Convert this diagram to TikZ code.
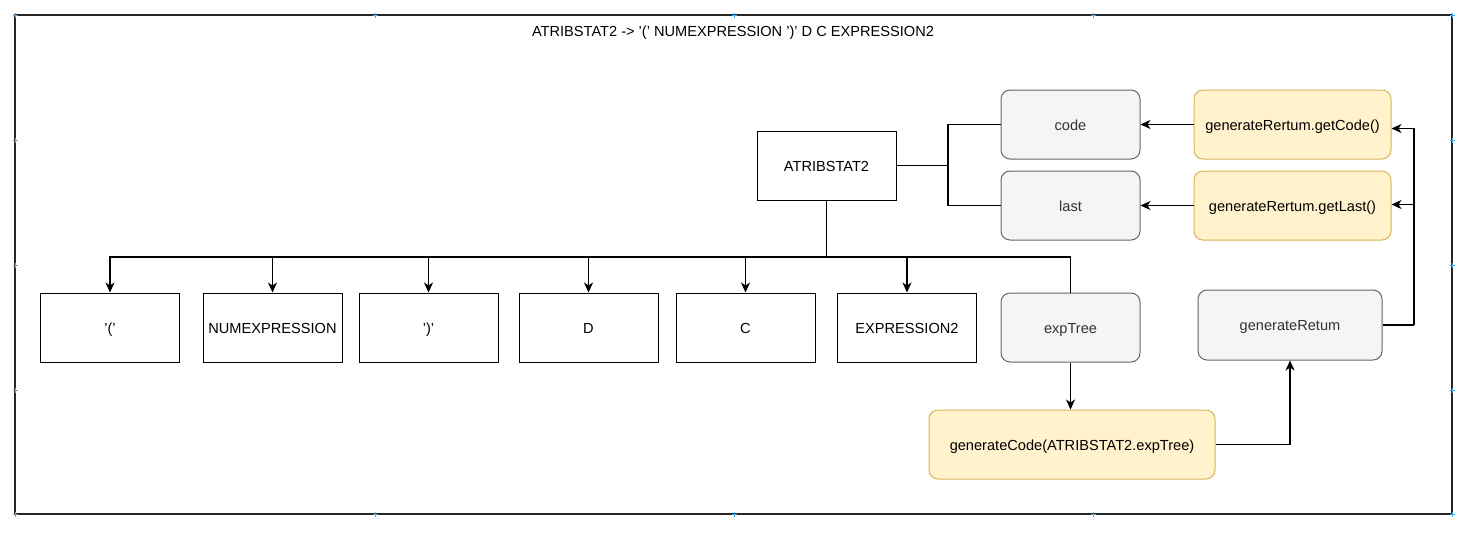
\documentclass[tikz,border=0pt]{standalone}
\usepackage{fontspec}
\setmainfont{Liberation Sans}
\usetikzlibrary{arrows.meta}
\definecolor{greyfill}{HTML}{F5F5F5}
\definecolor{greydraw}{HTML}{666666}
\definecolor{greytext}{HTML}{333333}
\definecolor{yelfill}{HTML}{FFF2CC}
\definecolor{yeldraw}{HTML}{D6B656}
\definecolor{handle}{HTML}{3FA9F5}
\tikzset{
  txt/.style={font=\fontsize{14.6}{17}\selectfont, text height=11pt, text depth=0pt},
  plainbox/.style={txt, draw=black, line width=1pt, fill=white, minimum width=139pt, minimum height=69pt, inner sep=0pt},
  greybox/.style={txt, draw=greydraw, line width=1pt, fill=greyfill, text=greytext, rounded corners=9pt, minimum width=139pt, minimum height=69pt, inner sep=0pt},
  yelbox/.style={txt, draw=yeldraw, line width=1pt, fill=yelfill, rounded corners=9pt, minimum height=69pt, inner sep=0pt},
  conn/.style={draw=black, line width=1.2pt},
  arr/.style={conn, -{Stealth[length=10pt,width=9pt,inset=3pt]}},
  hmark/.style={draw=handle, line width=0.8pt},
}
\begin{document}
\begin{tikzpicture}[x=1pt,y=-1pt]
\useasboundingbox (0,0) rectangle (1482,550);
% outer frame
\draw[draw=black!85, line width=1.2pt] (15,15) rectangle (1452,514);
\foreach \p in {(15,15),(375,15),(734,15),(1093,15),(1452,15),(15,514),(375,514),(734,514),(1093,514),(1452,514),(15,140),(15,265),(15,390),(1452,140),(1452,265),(1452,390)}{
  \draw[hmark] \p ++(-2.5,0) -- ++(5,0);
  \draw[hmark] \p ++(0,-2.5) -- ++(0,5);
}
\node[txt, inner sep=0pt] (title) at (733,31) {ATRIBSTAT2 -> '(' NUMEXPRESSION ')' D C EXPRESSION2};

% nodes
\node[plainbox] (atr) at (826.5,165.5) {ATRIBSTAT2};
\node[greybox] (code) at (1070.5,124.5) {code};
\node[greybox] (last) at (1070.5,205.5) {last};
\node[yelbox, minimum width=197pt] (gcode) at (1292.5,124.5) {generateRertum.getCode()};
\node[yelbox, minimum width=197pt] (glast) at (1292.5,205.5) {generateRertum.getLast()};

\node[plainbox] (lp) at (110,327.5) {'('};
\node[plainbox] (num) at (272.5,327.5) {NUMEXPRESSION};
\node[plainbox] (rp) at (428.5,327.5) {')'};
\node[plainbox] (d) at (588.5,327.5) {D};
\node[plainbox] (c) at (745.5,327.5) {C};
\node[plainbox] (expr) at (907,327.5) {EXPRESSION2};
\node[greybox] (exp) at (1070.5,327.5) {expTree};
\node[greybox, minimum width=184pt, minimum height=70pt] (gret) at (1290,325) {generateRetum};
\node[yelbox, minimum width=286pt] (gen) at (1072,444.5) {generateCode(ATRIBSTAT2.expTree)};

% connectors: tree
\coordinate (bus) at (826.5,257);
\draw[conn, line width=1.8pt] (atr.south) -- (bus);
\foreach \n in {lp,num,rp,d,c,expr}{
  \draw[arr] (bus) -| (\n.north);
}
\draw[conn] (bus) -| (exp.north);

% ATRIBSTAT2 to code / last
\coordinate (fork) at (948,165.5);
\draw[conn] (atr.east) -- (fork);
\draw[conn] (fork) |- (code.west);
\draw[conn] (fork) |- (last.west);

% getters to code / last
\draw[arr] (gcode.west) -- (code.east);
\draw[arr] (glast.west) -- (last.east);

% generateRetum to getters
\coordinate (rail) at (1414,325);
\draw[conn] (gret.east) -- (rail);
\draw[arr] (rail) |- ([yshift=-4pt]gcode.east);
\draw[arr] (rail) |- ([yshift=1pt]glast.east);

% expTree -> generateCode -> generateRetum
\draw[arr] (exp.south) -- (gen.north -| exp.south);
\draw[arr] (gen.east) -| (gret.south);
\end{tikzpicture}
\end{document}
